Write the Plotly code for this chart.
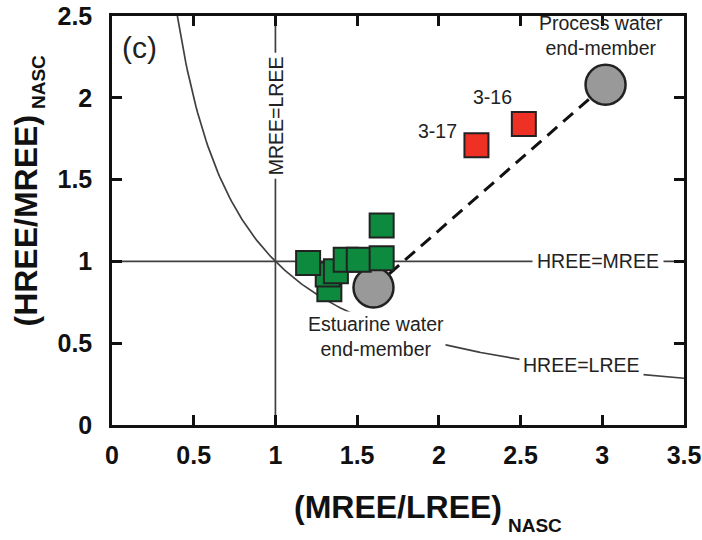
import numpy as np
import plotly.graph_objects as go

# Data
green_x = [1.33, 1.32, 1.37, 1.20, 1.43, 1.51, 1.65, 1.65]
green_y = [0.83, 0.92, 0.94, 0.99, 1.01, 1.01, 1.02, 1.22]
red_x = [2.23, 2.52]
red_y = [1.71, 1.84]
red_labels = ["3-17", "3-16"]
end_x = [1.60, 3.02]
end_y = [0.84, 2.08]
x_ticks = [0, 0.5, 1, 1.5, 2, 2.5, 3, 3.5]
y_ticks = [0, 0.5, 1, 1.5, 2, 2.5]

FONT = "Liberation Sans, Arial, sans-serif"
LINE_C = "#404040"

W, H = 702, 540
ML, MR, MT, MB = 112, 18, 16, 115
PW, PH = W - ML - MR, H - MT - MB

fig = go.Figure()

# reference lines
fig.add_trace(go.Scatter(x=[1, 1], y=[0, 2.5], mode="lines",
                         line=dict(color=LINE_C, width=1.7), hoverinfo="skip"))
fig.add_trace(go.Scatter(x=[0, 3.5], y=[1, 1], mode="lines",
                         line=dict(color=LINE_C, width=1.7), hoverinfo="skip"))
cx = np.linspace(0.4, 3.5, 300)
fig.add_trace(go.Scatter(x=cx, y=1.0 / cx, mode="lines",
                         line=dict(color=LINE_C, width=1.7), hoverinfo="skip"))

# mixing line
fig.add_trace(go.Scatter(x=end_x, y=end_y, mode="lines",
                         line=dict(color="#111111", width=3, dash="13px,8px"),
                         hoverinfo="skip"))

# end-members
fig.add_trace(go.Scatter(x=end_x, y=end_y, mode="markers",
                         marker=dict(symbol="circle", size=40, color="#999999",
                                     line=dict(color="#222222", width=2.5))))

# samples
fig.add_trace(go.Scatter(x=green_x, y=green_y, mode="markers",
                         marker=dict(symbol="square", size=24, color="#0e8a3e",
                                     line=dict(color="#222222", width=2))))
fig.add_trace(go.Scatter(x=red_x, y=red_y, mode="markers",
                         marker=dict(symbol="square", size=24, color="#ee3124",
                                     line=dict(color="#222222", width=2))))

ann_font = dict(family=FONT, size=19.5, color="#222222")
annotations = [
    dict(x=0.05, y=2.31, text="(c)", xanchor="left", showarrow=False,
         font=dict(family=FONT, size=30, color="#222222")),
    dict(x=2.99, y=2.38, text="Process water<br>end-member", showarrow=False,
         font=ann_font),
    dict(x=2.33, y=2.005, text=red_labels[1], showarrow=False, font=ann_font),
    dict(x=1.99, y=1.80, text=red_labels[0], showarrow=False, font=ann_font),
    dict(x=1.615, y=0.54, text="Estuarine water<br>end-member", showarrow=False,
         font=ann_font, bgcolor="white"),
    dict(x=2.87, y=0.367, text="HREE=LREE", showarrow=False, font=ann_font,
         bgcolor="white", borderpad=3),
    dict(x=2.975, y=1.0, text="HREE=MREE", showarrow=False, font=ann_font,
         bgcolor="white", borderpad=4),
    dict(x=1.0, y=1.89, text="MREE=LREE", showarrow=False, textangle=-90,
         font=ann_font, bgcolor="white", borderpad=3),
]
for a in annotations:
    a.update(xref="x", yref="y")


def px_x(p):
    return (p - ML) / PW


def px_y(p):
    return (H - MB - p) / PH


title_font = dict(family=FONT, size=32, color="#111111", weight="bold")
sub_font = dict(family=FONT, size=19, color="#111111", weight="bold")
annotations += [
    dict(xref="paper", yref="paper", x=0.5, y=px_y(507), text="(MREE/LREE)",
         showarrow=False, font=title_font, xanchor="center", yanchor="middle"),
    dict(xref="paper", yref="paper", x=px_x(506), y=px_y(525), text="NASC",
         showarrow=False, font=sub_font, xanchor="left", yanchor="middle"),
    dict(xref="paper", yref="paper", x=px_x(25), y=0.5, text="(HREE/MREE)",
         textangle=-90, showarrow=False, font=title_font,
         xanchor="center", yanchor="middle"),
    dict(xref="paper", yref="paper", x=px_x(38), y=px_y(111), text="NASC",
         textangle=-90, showarrow=False, font=sub_font,
         xanchor="center", yanchor="bottom"),
]

axis_common = dict(
    showgrid=False, zeroline=False, showline=True, linecolor="#111111",
    linewidth=2.5, mirror="ticks", ticks="inside", ticklen=10, tickwidth=2.5,
    tickcolor="#111111", automargin=False,
    tickfont=dict(family=FONT, size=25, color="#111111", weight="bold"),
)

fig.update_layout(
    width=W, height=H,
    margin=dict(l=ML, r=MR, t=MT, b=MB),
    paper_bgcolor="white", plot_bgcolor="white",
    showlegend=False,
    annotations=annotations,
    xaxis=dict(range=[0, 3.5], tickvals=x_ticks, ticktext=[f"{v:g}" for v in x_ticks],
               ticklabelstandoff=6, **axis_common),
    yaxis=dict(range=[0, 2.5], tickvals=y_ticks, ticktext=[f"{v:g}" for v in y_ticks],
               ticklabelstandoff=12, **axis_common),
)

fig.write_html("out.html")
